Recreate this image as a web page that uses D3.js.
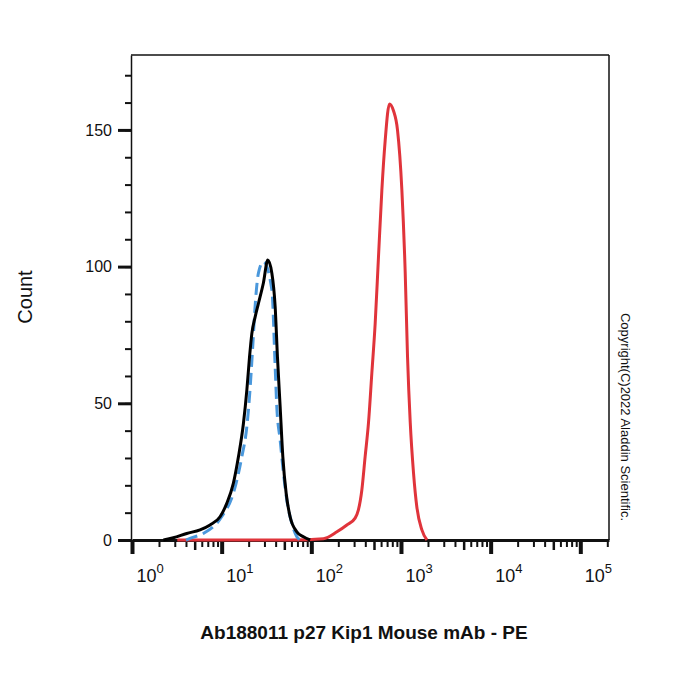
<!DOCTYPE html>
<html>
<head>
<meta charset="utf-8">
<script src="https://cdn.jsdelivr.net/npm/d3@7"></script>
<style>
body{margin:0;background:#fff;}
svg{font-family:"Liberation Sans", Arial, sans-serif;}
</style>
</head>
<body>
<svg id="chart" width="700" height="700"></svg>
<script>
// values (intensity on log axis, count)
const controlIntensity = [4.0, 4.44, 6.25, 10.0, 13.5, 16.8, 19.1, 20.7, 22.2, 23.6, 25.7, 29.2, 36.3, 39.5, 41.2, 44.9, 48.9, 53.3, 60.6, 68.9, 75];
const controlCount     = [0, 0.6, 2.4, 8.5, 17.1, 30.5, 41.5, 54.9, 70.7, 85.4, 97.6, 101.8, 91.5, 63.4, 48.8, 36.6, 24.4, 14.6, 6.1, 1.2, 0];

const isotypeIntensity = [2.24, 2.89, 4.08, 5.74, 7.42, 9.6, 11.4, 13.5, 15.4, 17.5, 19.1, 20.4, 21.7, 23.6, 25.7, 29.2, 32.7, 36.3, 39.5, 41.9, 44.9, 48.1, 52.4, 58.0, 68.9, 81.6, 97];
const isotypeCount     = [0, 0.8, 2.4, 3.7, 5.5, 8.5, 13.4, 20.7, 30.5, 42.7, 54.9, 66.5, 75.5, 81.5, 86.5, 94, 102.4, 97.6, 85.4, 67, 48.8, 30.5, 17.1, 8.5, 3, 1.2, 0];

const stainedIntensity = [3.2, 60, 136, 193, 249, 308, 335, 366, 398, 434, 473, 515, 561, 612, 666, 744, 825, 914, 1023, 1114, 1183, 1268, 1380, 1504, 1710, 1945];
const stainedCount     = [0, 0, 0.5, 3, 5.5, 8, 11, 18.3, 30.4, 42.8, 61, 79, 103.5, 128, 146, 159.5, 157, 150, 128, 98, 67, 43, 24.5, 12, 3.7, 0];

const yMajorTicks = [0, 50, 100, 150];
const xDecades = [0, 1, 2, 3, 4, 5];

const xLabel = "Ab188011 p27 Kip1 Mouse mAb - PE";
const yLabel = "Count";
const copyrightText = "Copyright(C)2022 Aladdin Scientific.";

drawHistogram();

function drawHistogram(){
	var svg = d3.select("#chart"),
		left = 132, right = 609, top = 55, bottom = 540,
		x = d3.scaleLog().domain([1, Math.pow(10, 5.32)]).range([left, right]),
		y = d3.scaleLinear().domain([0, 177.4]).range([bottom, top]),
		line = d3.line()
			.x(function(d){ return x(d[0]); })
			.y(function(d){ return y(d[1]); })
			.curve(d3.curveMonotoneX),
		axisColor = "#111";

	initFrame();
	initYAxis();
	initXAxis();
	drawCurves();
	drawTexts();

	function initFrame(){
		var xd = x.domain(), yd = y.domain();
		svg.append("line")
			.attr("x1", x(xd[0]) - 1).attr("x2", x(xd[1]))
			.attr("y1", y(yd[1])).attr("y2", y(yd[1]))
			.attr("stroke", axisColor).attr("stroke-width", 1.5);
		svg.append("line")
			.attr("x1", x(xd[1])).attr("x2", x(xd[1]))
			.attr("y1", y(yd[1])).attr("y2", y(0))
			.attr("stroke", axisColor).attr("stroke-width", 1.5);
	}

	function initYAxis(){
		var minor = svg.append("g").attr("transform", "translate(" + (left - 1) + ",0)")
			.call(d3.axisLeft(y).tickValues(d3.range(0, 171, 10)).tickSize(6).tickSizeOuter(0).tickFormat(""));
		minor.select(".domain").attr("stroke", axisColor).attr("stroke-width", 1.5);
		minor.selectAll(".tick line").attr("stroke", axisColor).attr("stroke-width", 2);

		var major = svg.append("g").attr("transform", "translate(" + (left - 1) + ",0)")
			.call(d3.axisLeft(y).tickValues(yMajorTicks).tickSize(13).tickPadding(6));
		major.select(".domain").remove();
		major.selectAll(".tick line").attr("stroke", axisColor).attr("stroke-width", 3);
		major.selectAll(".tick text")
			.attr("font-size", "16px")
			.attr("fill", "#111")
			.style("font-family", "'Liberation Sans', Arial, sans-serif");
	}

	function initXAxis(){
		var minorVals = [], midVals = [], majorVals = xDecades.map(function(k){ return Math.pow(10, k); });
		xDecades.forEach(function(k){
			for(let m = 2; m <= 9; m++){
				let v = m * Math.pow(10, k);
				if(v > x.domain()[1]) continue;
				if(m === 5) midVals.push(v); else minorVals.push(v);
			}
		});

		var g = svg.append("g").attr("transform", "translate(0," + bottom + ")");

		var minor = g.append("g").call(d3.axisBottom(x).tickValues(minorVals).tickSize(7).tickSizeOuter(0).tickFormat(""));
		minor.select(".domain").remove();
		minor.selectAll(".tick line").attr("stroke", axisColor).attr("stroke-width", 2);

		var mid = g.append("g").call(d3.axisBottom(x).tickValues(midVals).tickSize(10).tickSizeOuter(0).tickFormat(""));
		mid.select(".domain").remove();
		mid.selectAll(".tick line").attr("stroke", axisColor).attr("stroke-width", 2.5);

		var major = g.append("g").call(d3.axisBottom(x).tickValues(majorVals).tickSize(14).tickSizeOuter(0).tickFormat(""));
		major.select(".domain").attr("stroke", axisColor).attr("stroke-width", 3);
		major.selectAll(".tick line").attr("stroke", axisColor).attr("stroke-width", 4);

		var labels = major.selectAll(".tick").append("text")
			.attr("x", 4)
			.attr("y", 42)
			.attr("fill", "#111")
			.attr("text-anchor", "start");
		labels.append("tspan").attr("font-size", "18px").text("10");
		labels.append("tspan").attr("font-size", "13px").attr("dy", -9)
			.text(function(d){ return Math.round(Math.log10(d)); });
	}

	function drawCurves(){
		var stained = d3.zip(stainedIntensity, stainedCount),
			control = d3.zip(controlIntensity, controlCount),
			isotype = d3.zip(isotypeIntensity, isotypeCount);

		svg.append("path").datum(stained)
			.attr("d", line).attr("fill", "none")
			.attr("stroke", "#e0343b").attr("stroke-width", 3);
		svg.append("path").datum(control)
			.attr("d", line).attr("fill", "none")
			.attr("stroke", "#4a98dc").attr("stroke-width", 3)
			.attr("stroke-dasharray", "12,6");
		svg.append("path").datum(isotype)
			.attr("d", line).attr("fill", "none")
			.attr("stroke", "#000").attr("stroke-width", 3)
			.attr("stroke-linejoin", "round");
	}

	function drawTexts(){
		svg.append("text")
			.attr("transform", "translate(32,297) rotate(-90)")
			.attr("text-anchor", "middle")
			.attr("font-size", "20px")
			.attr("fill", "#111")
			.text(yLabel);

		svg.append("text")
			.attr("x", 364).attr("y", 639)
			.attr("text-anchor", "middle")
			.attr("font-size", "19px")
			.attr("font-weight", "bold")
			.attr("fill", "#111")
			.text(xLabel);

		svg.append("text")
			.attr("transform", "translate(621,417) rotate(90)")
			.attr("text-anchor", "middle")
			.attr("font-size", "13px")
			.attr("fill", "#111")
			.text(copyrightText);
	}
}
</script>
</body>
</html>
